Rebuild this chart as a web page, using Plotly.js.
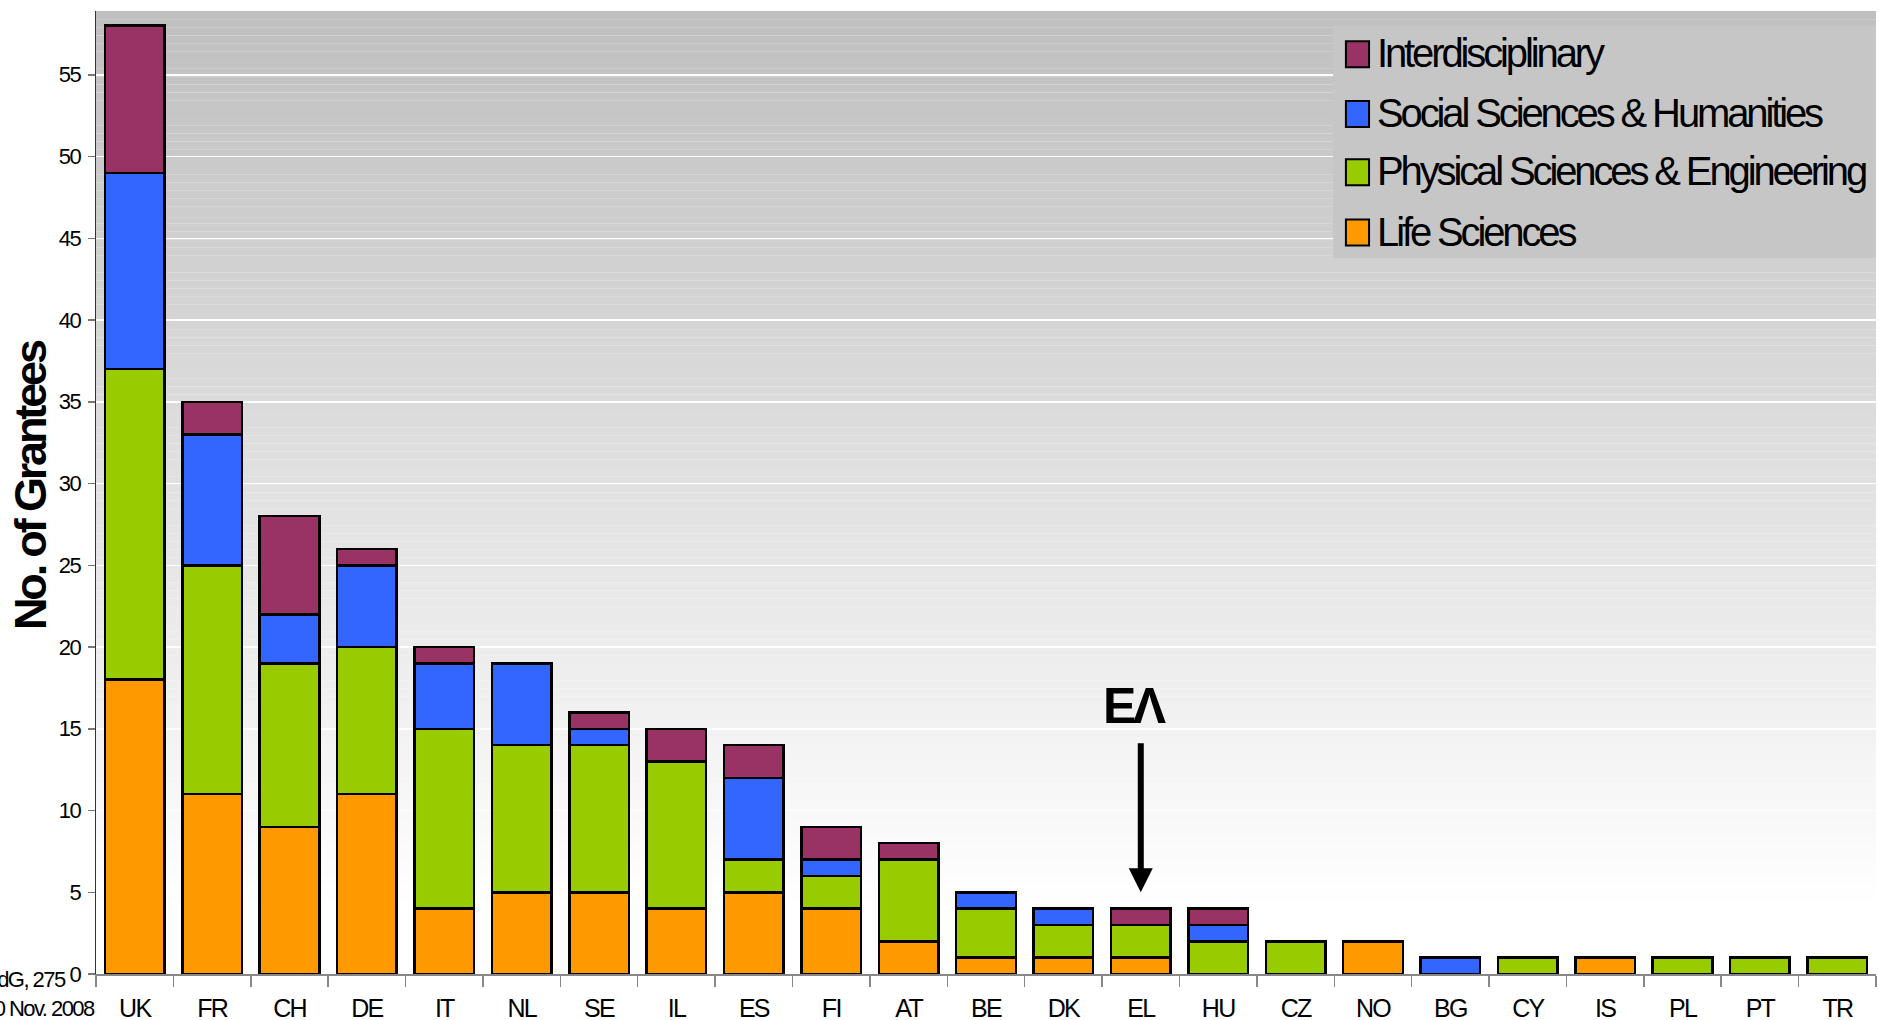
<!DOCTYPE html>
<html>
<head>
<meta charset="utf-8">
<script src="https://cdn.plot.ly/plotly-3.0.1.min.js"></script>
<style>
  html, body { margin: 0; padding: 0; background: #fff; }
  #chart { width: 1879px; height: 1020px; }
  svg text { letter-spacing: -0.07em; }
</style>
</head>
<body>
<div id="chart"></div>
<script>
// ---- data ----
const categories = ['UK','FR','CH','DE','IT','NL','SE','IL','ES','FI','AT','BE','DK','EL','HU','CZ','NO','BG','CY','IS','PL','PT','TR'];
const lifeSciences      = [18,11, 9,11, 4, 5, 5, 4, 5, 4, 2, 1, 1, 1, 0, 0, 2, 0, 0, 1, 0, 0, 0];
const physicalEng       = [19,14,10, 9,11, 9, 9, 9, 2, 2, 5, 3, 2, 2, 2, 2, 0, 0, 1, 0, 1, 1, 1];
const socialHumanities  = [12, 8, 3, 5, 4, 5, 1, 0, 5, 1, 0, 1, 1, 0, 1, 0, 0, 1, 0, 0, 0, 0, 0];
const interdisciplinary = [ 9, 2, 6, 1, 1, 0, 1, 2, 2, 2, 1, 0, 0, 1, 1, 0, 0, 0, 0, 0, 0, 0, 0];
const seriesNames = ['Life Sciences','Physical Sciences & Engineering','Social Sciences & Humanities','Interdisciplinary'];
const yTickValues = [0,5,10,15,20,25,30,35,40,45,50,55];
const yAxisTitle = 'No. of Grantees';
const footNote1 = 'AdG, 275';
const footNote2 = '30 Nov. 2008';
const arrowLabel = 'ΕΛ';
const arrowCategory = 'EL';

// ---- style ----
const colors = ['#FF9900','#99CC00','#3366FF','#993366'];
const FONT = '"Liberation Sans", Arial, sans-serif';
const seriesValues = [lifeSciences, physicalEng, socialHumanities, interdisciplinary];

const traces = seriesValues.map((vals, i) => ({
  type: 'bar',
  name: seriesNames[i],
  x: categories,
  y: vals,
  marker: { color: colors[i], line: { color: '#000', width: 2.5 } },
  showlegend: false,
  hoverinfo: 'x+y+name'
}));

const yMax = 58.9;
const shapes = [];
// background gradient (gray at top -> white near bottom)
const nBands = 118;
for (let k = 0; k < nBands; k++) {
  const y0 = yMax * k / nBands, y1 = yMax * (k + 1) / nBands;
  const mid = (y0 + y1) / 2;
  let t = (mid - 4) / (yMax - 4);
  if (t < 0) t = 0;
  const g = Math.round(255 - t * 64);
  shapes.push({ type: 'rect', xref: 'paper', yref: 'y', x0: 0, x1: 1, y0: y0, y1: y1,
    fillcolor: `rgb(${g},${g},${g})`, line: { width: 0 }, layer: 'below' });
}
// custom legend box
shapes.push({ type: 'rect', xref: 'paper', yref: 'paper', x0: 0.695, x1: 1.0, y0: 0.7435, y1: 0.985,
  fillcolor: 'rgb(198,198,198)', line: { width: 0 }, layer: 'above' });

const legendY = [0.771, 0.8335, 0.894, 0.956]; // Life, Physical, Social, Inter
const annotations = [];
for (let i = 0; i < 4; i++) {
  shapes.push({ type: 'rect', xref: 'paper', yref: 'paper', x0: 0.7022, x1: 0.7152,
    y0: legendY[i] - 0.0145, y1: legendY[i] + 0.0125, fillcolor: colors[i],
    line: { color: '#000', width: 2 }, layer: 'above' });
  annotations.push({ xref: 'paper', yref: 'paper', x: 0.7185, y: legendY[i], xanchor: 'left', yanchor: 'middle',
    text: '<span style="letter-spacing:-0.078em">' + seriesNames[i] + '</span>', showarrow: false,
    font: { family: FONT, size: 40, color: '#000' } });
}

// arrow + label
annotations.push({ xref: 'x', yref: 'y', x: arrowCategory, y: 5.0, axref: 'x', ayref: 'y', ax: arrowCategory, ay: 14.2,
  text: '', showarrow: true, arrowhead: 2, arrowsize: 0.8, arrowwidth: 6, arrowcolor: '#000' });
annotations.push({ xref: 'x', yref: 'y', x: arrowCategory, y: 16.4, xshift: -6, text: '<b>' + arrowLabel + '</b>',
  showarrow: false, font: { family: FONT, size: 50, color: '#000' } });

// y-axis title (placed as rotated annotation)
annotations.push({ xref: 'paper', yref: 'paper', x: -0.0365, y: 0.5078, xanchor: 'center', yanchor: 'middle',
  textangle: -90, text: '<b>' + yAxisTitle + '</b>', showarrow: false,
  font: { family: FONT, size: 45, color: '#000' } });

// footnotes
annotations.push({ xref: 'paper', yref: 'paper', x: -0.0155, y: -0.006, xanchor: 'right', yanchor: 'middle',
  text: footNote1, showarrow: false, font: { family: FONT, size: 22, color: '#000' } });
annotations.push({ xref: 'paper', yref: 'paper', x: 0.0005, y: -0.036, xanchor: 'right', yanchor: 'middle',
  text: footNote2, showarrow: false, font: { family: FONT, size: 22, color: '#000' } });

const layout = {
  width: 1879, height: 1020,
  margin: { l: 96, r: 3, t: 11, b: 46 },
  paper_bgcolor: '#fff',
  plot_bgcolor: 'rgba(0,0,0,0)',
  barmode: 'stack',
  bargap: 0.23,
  showlegend: false,
  xaxis: {
    type: 'category',
    range: [-0.5, categories.length - 0.5],
    tickson: 'boundaries',
    ticks: 'outside', ticklen: 11, tickcolor: '#888', tickwidth: 1.5,
    showline: true, linecolor: '#888', linewidth: 1.5,
    showgrid: false,
    tickfont: { family: FONT, size: 25, color: '#000' },
    ticklabelstandoff: 11,
    fixedrange: true
  },
  yaxis: {
    range: [0, yMax],
    tickvals: yTickValues,
    ticks: 'outside', ticklen: 7, tickcolor: '#777', tickwidth: 1.5,
    showline: true, linecolor: '#333', linewidth: 1.5,
    showgrid: true, gridcolor: '#fff', gridwidth: 1.5,
    zeroline: false,
    tickfont: { family: FONT, size: 22, color: '#000' },
    ticklabelstandoff: 3,
    fixedrange: true
  },
  shapes: shapes,
  annotations: annotations
};

Plotly.newPlot('chart', traces, layout, { displayModeBar: false, staticPlot: true });
</script>
</body>
</html>
